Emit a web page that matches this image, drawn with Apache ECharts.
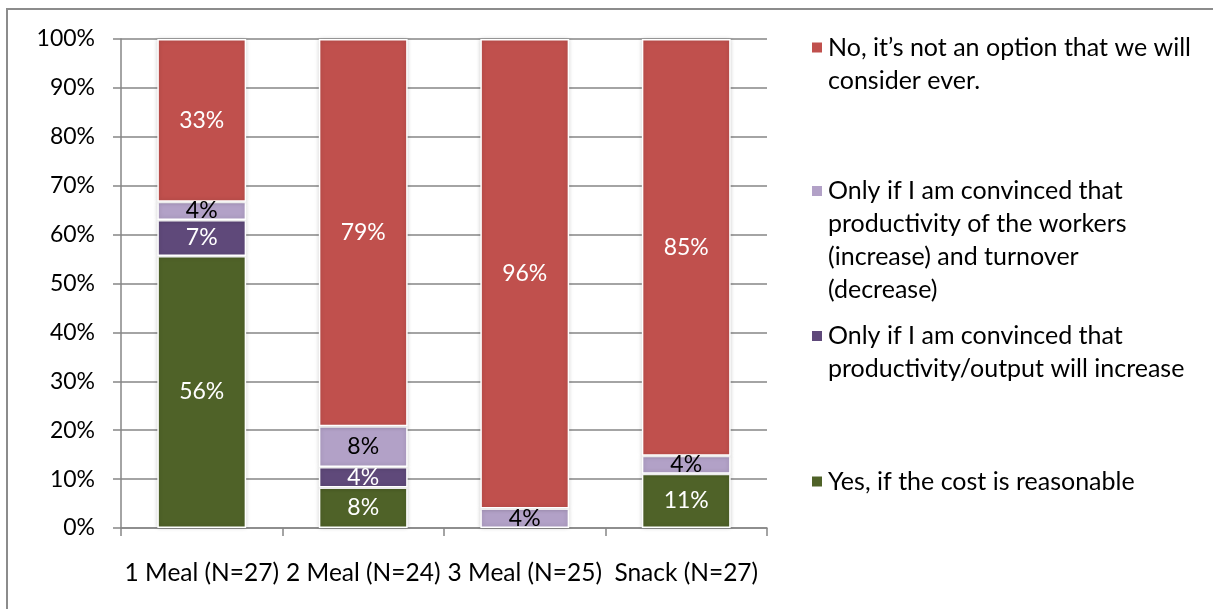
<!DOCTYPE html>
<html>
<head>
<meta charset="utf-8">
<script src="https://cdn.jsdelivr.net/npm/echarts@6/dist/echarts.min.js"></script>
<style>
  html, body { margin: 0; padding: 0; background: #fff; }
  #chart { width: 1213px; height: 609px; }
</style>
</head>
<body>
<div id="chart"></div>
<script>
// Survey groups (x axis)
const categories = ['1 Meal (N=27)', '2 Meal (N=24)', '3 Meal (N=25)', 'Snack (N=27)'];

// Share of respondents per answer, in percent (stacked bottom to top)
const yesReasonableCost    = [55.6, 8.3, 0, 11.1];
const onlyOutputIncrease   = [7.4, 4.2, 0, 0];
const onlyTurnoverDecrease = [3.7, 8.3, 4.0, 3.7];
const neverConsider        = [33.3, 79.2, 96.0, 85.2];

// Answer names
const seriesNames = [
  'Yes, if the cost is reasonable',
  'Only if I am convinced that productivity/output will increase',
  'Only if I am convinced that productivity of the workers (increase) and turnover (decrease)',
  'No, it\u2019s not an option that we will consider ever.'
];

// Wrapped legend text
const legendText = {
  [seriesNames[0]]: 'Yes, if the cost is reasonable',
  [seriesNames[1]]: 'Only if I am convinced that\nproductivity/output will increase',
  [seriesNames[2]]: 'Only if I am convinced that\nproductivity of the workers\n(increase) and turnover\n(decrease)',
  [seriesNames[3]]: 'No, it\u2019s not an option that we will\nconsider ever.'
};

// Y axis ticks
const yTicks = { min: 0, max: 100, interval: 10 };

const colors = ['#4F6228', '#5F497A', '#B2A1C7', '#C0504D'];
const labelColors = ['#ffffff', '#ffffff', '#000000', '#ffffff'];
const FONT = 'Lato';
const LH = 33;

const seriesData = [yesReasonableCost, onlyOutputIncrease, onlyTurnoverDecrease, neverConsider];

const series = seriesData.map((vals, i) => ({
  name: seriesNames[i],
  type: 'bar',
  stack: 'total',
  barWidth: '55%',
  data: vals.map(v => (v === 0 ? '-' : v)),
  itemStyle: {
    color: colors[i],
    borderColor: '#ffffff',
    borderWidth: 1.5,
    shadowColor: 'rgba(0,0,0,0.18)',
    shadowBlur: 4
  },
  label: {
    show: true,
    position: 'inside',
    color: labelColors[i],
    fontFamily: FONT,
    fontSize: 23,
    formatter: p => (typeof p.value === 'number' && p.value > 0 ? Math.round(p.value) + '%' : '')
  },
  emphasis: { disabled: true }
}));

// One legend block per answer, top to bottom in reverse series order.
// Leading blank lines keep the swatch level with the first text line.
const legendOrder = [3, 2, 1, 0];
const legendTops = [-2, 75.5, 286.5, 465];
const legends = legendOrder.map((si, k) => {
  const text = legendText[seriesNames[si]];
  const lines = text.split('\n').length;
  return {
    data: [seriesNames[si]],
    orient: 'vertical',
    left: 810,
    top: legendTops[k],
    padding: 0,
    itemWidth: 12,
    itemHeight: 12,
    itemGap: 0,
    icon: 'rect',
    selectedMode: false,
    formatter: () => '\n'.repeat(lines - 1) + text,
    textStyle: {
      fontFamily: FONT,
      fontSize: 25,
      lineHeight: LH,
      color: '#000'
    }
  };
});

const chart = echarts.init(document.getElementById('chart'), null, { renderer: 'canvas' });
chart.setOption({
  animation: false,
  backgroundColor: '#ffffff',
  textStyle: { fontFamily: FONT },
  grid: { left: 121, right: 446, top: 39, bottom: 81, containLabel: false },
  legend: legends,
  xAxis: {
    type: 'category',
    data: categories,
    boundaryGap: true,
    axisLine: { show: true, lineStyle: { color: '#868686', width: 1.5 } },
    axisTick: { show: true, length: 8, alignWithLabel: false, lineStyle: { color: '#868686', width: 1.5 } },
    axisLabel: { color: '#000', fontFamily: FONT, fontSize: 24.5, margin: 33, interval: 0 },
    splitLine: { show: false }
  },
  yAxis: {
    type: 'value',
    min: yTicks.min,
    max: yTicks.max,
    interval: yTicks.interval,
    axisLine: { show: true, lineStyle: { color: '#868686', width: 1.5 } },
    axisTick: { show: true, length: 8, lineStyle: { color: '#868686', width: 1.5 } },
    axisLabel: { color: '#000', fontFamily: FONT, fontSize: 23, margin: 26, formatter: v => v + '%' },
    splitLine: { show: true, lineStyle: { color: '#868686', width: 1.5 } }
  },
  graphic: [{
    type: 'rect',
    silent: true,
    shape: { x: 7, y: 9, width: 1400, height: 800 },
    style: { fill: 'none', stroke: '#8c8c8c', lineWidth: 2 },
    z: -1
  }],
  series: series
});
</script>
</body>
</html>
